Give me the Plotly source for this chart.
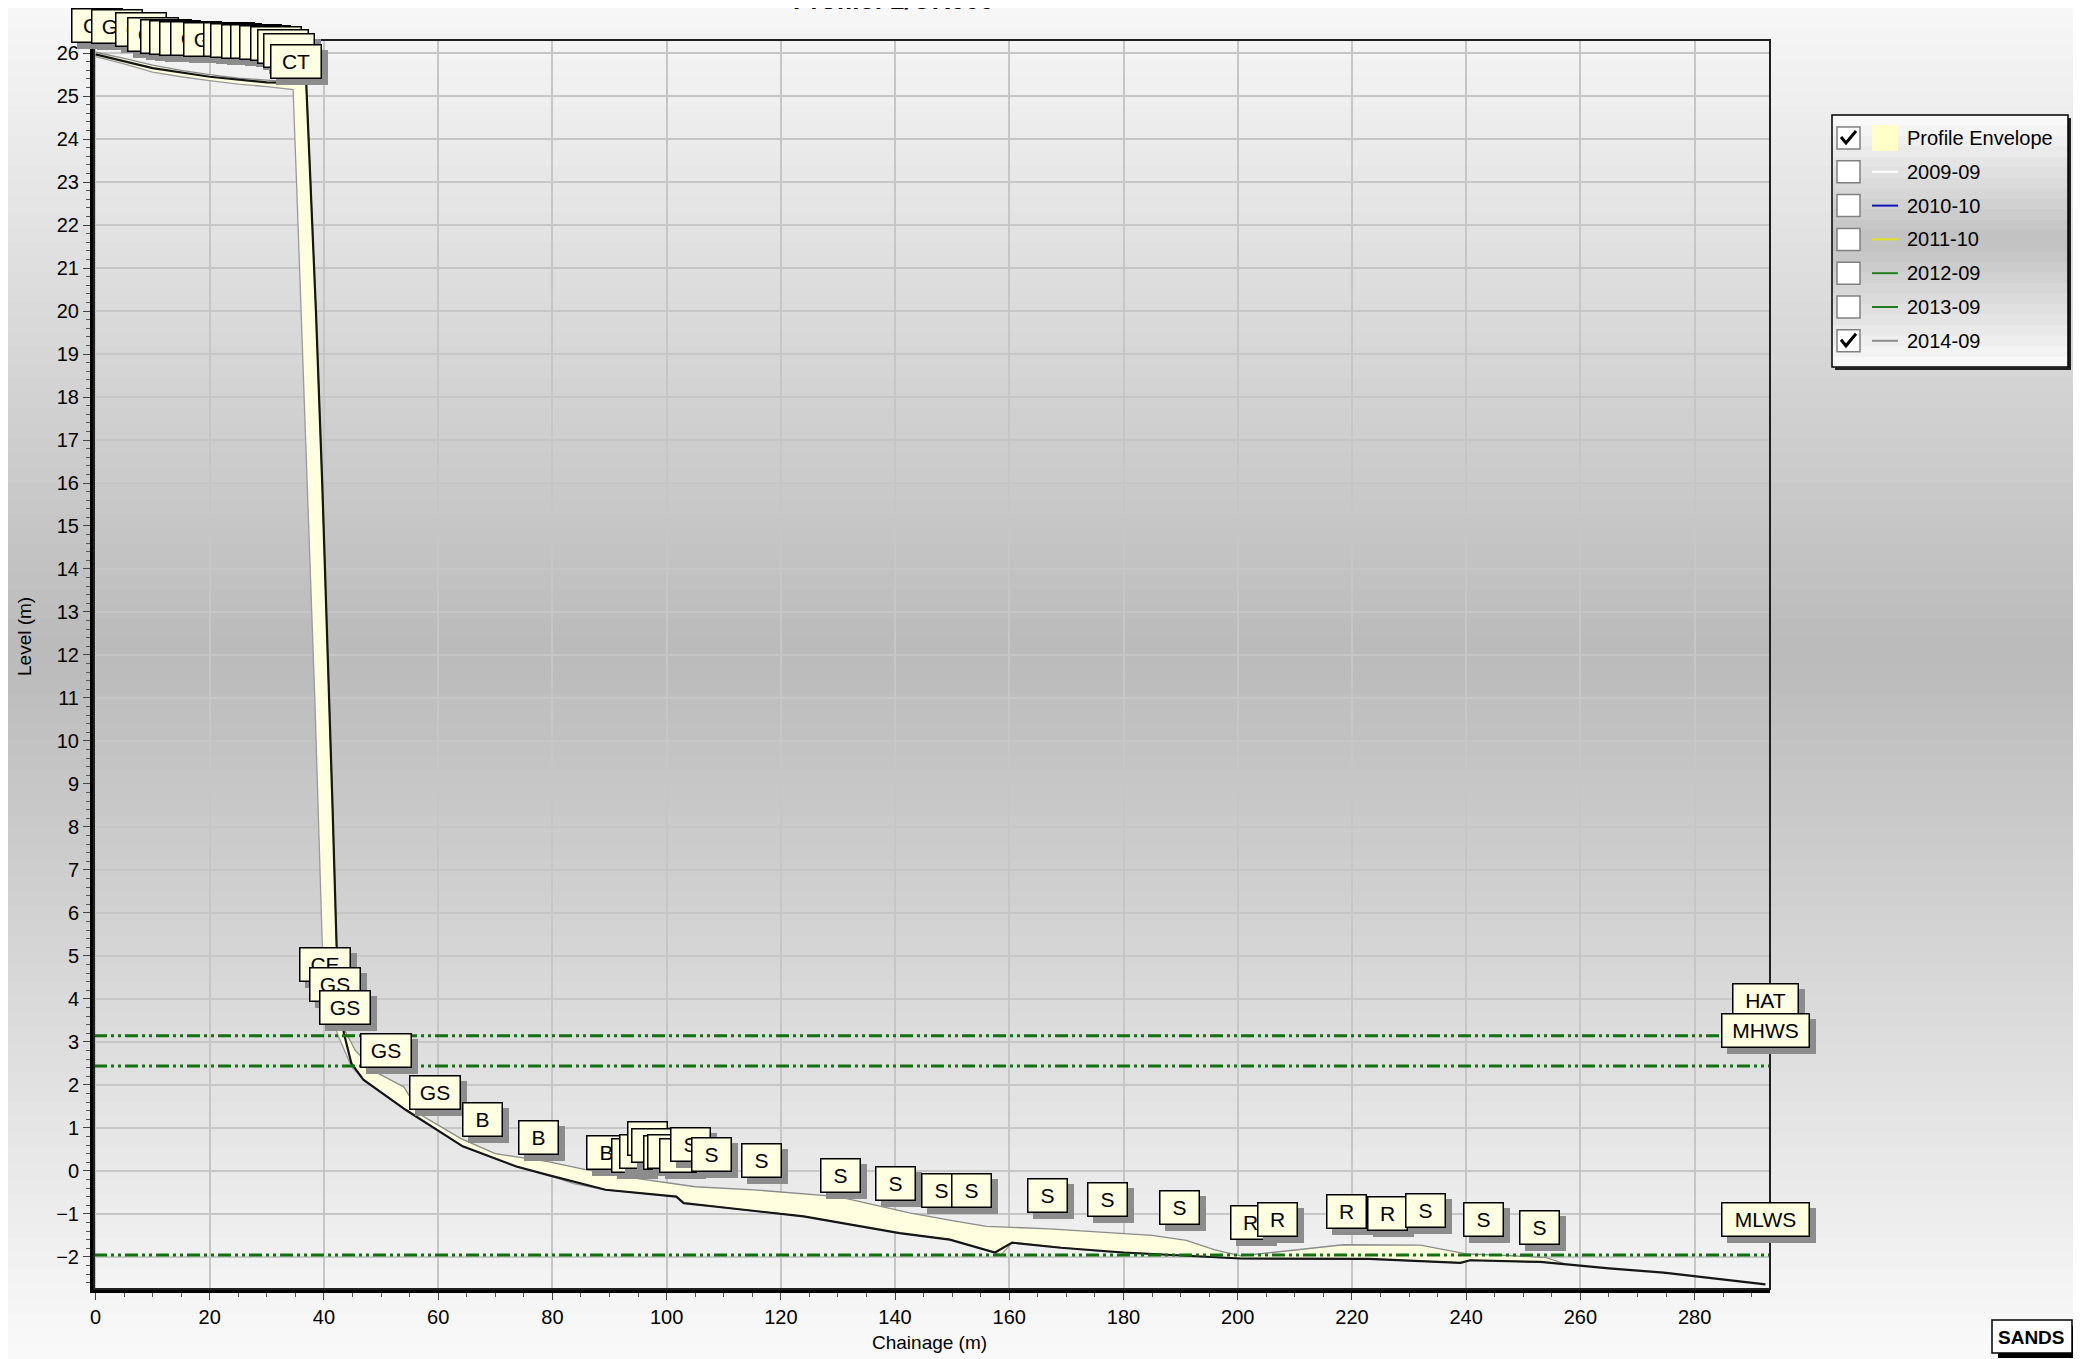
import plotly.graph_objects as go

# window is 2081x1359; the page body has an 8px margin, so the figure is
# offset by 8px and sized to fill the rest of the window.
WIN_W, WIN_H = 2081, 1359
OFF = 8
W, H = WIN_W - OFF, WIN_H - OFF
PLOT_L, PLOT_R, PLOT_T, PLOT_B = 94, 1770, 40, 1289  # plot area in window pixels
ML = PLOT_L - OFF
MT = PLOT_T - OFF
MR = W - (PLOT_R - OFF)
MB = H - (PLOT_B - OFF)
PW = PLOT_R - PLOT_L
PH = PLOT_B - PLOT_T
FONT = "Arial, Liberation Sans, sans-serif"


def px_x(px):
    return (px - PLOT_L) / PW


def px_y(py):
    return (PLOT_B - py) / PH


# ---------------- data ----------------
upper_chainage = [0, 5, 10, 15, 20, 25, 30, 34, 36.9, 37.5, 38.6, 39.7, 40.7, 41.5, 42.2, 42.8, 43.5,
                  45.5, 49, 54, 57, 64, 70, 79, 86, 95, 105, 116, 130, 142.5, 150, 156, 167, 180,
                  185, 191, 196, 200.5, 207, 218.5, 232, 240, 247, 254, 257]
upper_level = [26.02, 25.88, 25.72, 25.6, 25.5, 25.42, 25.37, 25.33, 25.3, 23.5, 20.0, 16.0, 12.0, 8.5,
               5.3, 4.2, 3.3, 2.8, 2.3, 1.95, 1.3, 0.75, 0.4, 0.22, 0.02, -0.18, -0.37, -0.45, -0.6,
               -0.98, -1.16, -1.29, -1.35, -1.45, -1.5, -1.62, -1.84, -1.98, -1.88, -1.72, -1.73,
               -1.93, -1.97, -2.02, -2.15]
lower_chainage = [0, 5, 10, 15, 20, 25, 30, 34.6, 35.2, 36.3, 37.4, 38.4, 39.2, 39.7, 40.8, 42.4, 44.8,
                  46.9, 54.3, 64.3, 73.7, 79.3, 83.7, 89.3, 101.7, 103, 108.4, 124, 140.8, 149.6,
                  157.5, 158.6, 160.5, 169, 176.5, 180, 200.5, 223, 239, 240.7, 253, 257]
lower_level = [25.92, 25.75, 25.56, 25.45, 25.36, 25.28, 25.22, 25.15, 23.0, 19.0, 15.0, 11.0, 7.5, 5.3,
               4.0, 3.17, 2.43, 2.12, 1.42, 0.57, 0.1, -0.1, -0.3, -0.44, -0.6, -0.75, -0.83, -1.06,
               -1.45, -1.6, -1.9, -1.95, -1.67, -1.79, -1.88, -1.9, -2.04, -2.05, -2.14, -2.08,
               -2.12, -2.17]
p2014_chainage = [0, 10, 20, 30, 36.9, 37.5, 38.6, 39.7, 40.7, 41.5, 42.2, 42.6, 43.5, 44.8, 46.9,
                  54.3, 64.3, 73.7, 79.3, 89.3, 101.7, 103, 108.4, 124, 140.8, 149.6, 157.5, 160.5,
                  169, 180, 200.5, 223, 239, 240.7, 253, 257, 265, 274.6, 283, 292.4]
p2014_level = [25.97, 25.65, 25.45, 25.32, 25.3, 23.5, 20.0, 16.0, 12.0, 8.5, 5.3, 4.0, 3.2, 2.5, 2.12,
               1.42, 0.57, 0.1, -0.1, -0.44, -0.6, -0.75, -0.83, -1.06, -1.45, -1.6, -1.9, -1.67,
               -1.79, -1.9, -2.04, -2.05, -2.14, -2.08, -2.12, -2.17, -2.27, -2.37, -2.5, -2.64]

tide_names = ["HAT", "MHWS", "MLWS"]
tide_levels = [3.14, 2.44, -1.96]

feature_text = ["CT", "GS", "GS", "GS", "GS", "GS", "GS", "GS", "GS", "CT", "CT", "CT", "CT", "CT",
                "CT", "CT", "CT", "CT",
                "CE", "GS", "GS", "GS", "GS", "B", "B",
                "B", "S", "S", "S", "S", "S", "S", "S", "S", "S",
                "S", "S", "S", "S", "S", "S", "S", "S", "R", "R", "R", "R", "S", "S", "S"]
feature_chainage = [0.26, 3.76, 7.97, 10.07, 12.34, 13.92, 15.67, 17.6, 19.87, 23.38, 24.6, 26.5, 28.1,
                    29.7, 31.6, 32.8, 33.9, 35.1,
                    40.19, 41.9, 43.7, 50.8, 59.4, 67.7, 77.5,
                    89.4, 93.8, 95.3, 96.7, 97.4, 99.4, 100.1, 102.2, 104.1, 107.8,
                    116.7, 130.4, 140.0, 148.2, 153.3, 166.7, 177.2, 189.8, 202.2, 206.9, 219.1,
                    226.2, 232.8, 243.1, 252.9]
feature_level = [26.24, 26.21, 26.14, 26.02, 25.98, 25.95, 25.93, 25.93, 25.91, 25.91, 25.88, 25.86,
                 25.86, 25.84, 25.81, 25.74, 25.65, 25.40,
                 4.40, 3.93, 3.40, 2.40, 1.42, 0.79, 0.37,
                 0.02, -0.05, 0.05, 0.35, 0.19, 0.02, 0.05, -0.05, 0.21, -0.02,
                 -0.16, -0.51, -0.70, -0.86, -0.86, -0.98, -1.07, -1.26, -1.60, -1.55, -1.35,
                 -1.39, -1.33, -1.53, -1.72]

legend_names = ["Profile Envelope", "2009-09", "2010-10", "2011-10", "2012-09", "2013-09", "2014-09"]
legend_colors = ["#FFFFC8", "#FFFFFF", "#1010C0", "#E0E020", "#208020", "#208020", "#8C8C8C"]
legend_checked = [True, False, False, False, False, False, True]

x_ticks = list(range(0, 281, 20))
y_ticks = list(range(-2, 27))

# ---------------- figure ----------------
fig = go.Figure()

fig.add_trace(go.Scatter(x=upper_chainage, y=upper_level, mode="lines",
                         line=dict(color="#8a8a8a", width=1.3), hoverinfo="skip", showlegend=False))
fig.add_trace(go.Scatter(x=lower_chainage, y=lower_level, mode="lines", fill="tonexty",
                         fillcolor="#FFFFE0", line=dict(color="#9a9a9a", width=1.3),
                         hoverinfo="skip", showlegend=False))
fig.add_trace(go.Scatter(x=p2014_chainage, y=p2014_level, mode="lines",
                         line=dict(color="#151515", width=2.2), name="2014-09", showlegend=False))

shapes = []
annotations = []


def grad(py, stops):
    for (a, ca), (b, cb) in zip(stops[:-1], stops[1:]):
        if a <= py <= b:
            t = (py - a) / (b - a)
            return int(round(ca + (cb - ca) * t))
    return stops[-1][1]


# page / plot gradient background
page_stops = [(0, 248), (650, 186), (WIN_H, 250)]
N = 90
for i in range(N):
    y0 = WIN_H * i / N
    y1 = WIN_H * (i + 1) / N + 1
    c = grad((y0 + y1) / 2, page_stops)
    shapes.append(dict(type="rect", xref="paper", yref="paper", x0=px_x(0), x1=px_x(WIN_W),
                       y0=px_y(y1), y1=px_y(y0), fillcolor=f"rgb({c},{c},{c})",
                       line=dict(width=0), layer="below"))

# tide lines
for lvl in tide_levels:
    shapes.append(dict(type="line", xref="paper", yref="y", x0=0, x1=1, y0=lvl, y1=lvl,
                       line=dict(color="#127212", width=3, dash="13px,4px,3px,4px,3px,4px"),
                       layer="above"))

# plot frame (top/right thinner)
shapes.append(dict(type="rect", xref="paper", yref="paper", x0=0, x1=1, y0=0, y1=1,
                   line=dict(color="#202020", width=2), layer="above"))


def label_box(x, y, text, xref="x", yref="y", yshift=0, width=None, size=21):
    if width is None:
        width = 36 if len(text) == 1 else 47
    common = dict(x=x, y=y, xref=xref, yref=yref, showarrow=False, xanchor="center",
                  yanchor="bottom", width=width, height=30, borderpad=1, borderwidth=1.5)
    annotations.append(dict(common, text=text, bgcolor="#8c8c8c", bordercolor="#8c8c8c",
                            font=dict(family=FONT, size=size, color="#8c8c8c"),
                            xshift=6, yshift=yshift - 6))
    annotations.append(dict(common, text=text, bgcolor="#FFFFE1", bordercolor="#000000",
                            font=dict(family=FONT, size=size, color="#000000"),
                            yshift=yshift))


for t, ch, lv in zip(feature_text, feature_chainage, feature_level):
    label_box(ch, lv, t)

for name, lvl in zip(tide_names, tide_levels):
    label_box(px_x(1765), lvl, name, xref="paper", yshift=18, width=62 if len(name) == 3 else 84)

# title (cut off at the top of the page)
annotations.append(dict(text="<b>Profile: 1/OR000</b>", x=px_x(893), y=px_y(17), xref="paper",
                        yref="paper", xanchor="center", yanchor="bottom", showarrow=False,
                        font=dict(family=FONT, size=26, color="#000000")))

# axis titles
annotations.append(dict(text="Level (m)", x=px_x(24), y=px_y(637), xref="paper", yref="paper",
                        xanchor="center", yanchor="middle", textangle=-90, showarrow=False,
                        font=dict(family=FONT, size=19, color="#000")))
annotations.append(dict(text="Chainage (m)", x=px_x(929), y=px_y(1342), xref="paper", yref="paper",
                        xanchor="center", yanchor="middle", showarrow=False,
                        font=dict(family=FONT, size=19, color="#000")))

# custom legend
LX0, LX1, LY0, LY1 = 1832, 2068, 115, 367
shapes.append(dict(type="rect", xref="paper", yref="paper", x0=px_x(LX0 + 3), x1=px_x(LX1 + 3),
                   y0=px_y(LY1 + 3), y1=px_y(LY0 + 3), fillcolor="#202020", line=dict(width=0)))
leg_stops = [(LY0, 252), (241, 192), (LY1, 250)]
NL = 24
for i in range(NL):
    y0 = LY0 + (LY1 - LY0) * i / NL
    y1 = LY0 + (LY1 - LY0) * (i + 1) / NL + 0.5
    c = grad((y0 + y1) / 2, leg_stops)
    shapes.append(dict(type="rect", xref="paper", yref="paper", x0=px_x(LX0), x1=px_x(LX1),
                       y0=px_y(y1), y1=px_y(y0), fillcolor=f"rgb({c},{c},{c})", line=dict(width=0)))
shapes.append(dict(type="rect", xref="paper", yref="paper", x0=px_x(LX0), x1=px_x(LX1),
                   y0=px_y(LY1), y1=px_y(LY0), line=dict(color="#000", width=1.5)))
row0, drow = 138, 33.8
for i, (nm, col, chk) in enumerate(zip(legend_names, legend_colors, legend_checked)):
    cy = row0 + i * drow
    shapes.append(dict(type="rect", xref="paper", yref="paper", x0=px_x(1837), x1=px_x(1860),
                       y0=px_y(cy + 11), y1=px_y(cy - 11), fillcolor="#FFFFFF",
                       line=dict(color="#808080", width=1.5)))
    if chk:
        path = (f"M {px_x(1841)},{px_y(cy - 1)} L {px_x(1846)},{px_y(cy + 5)} "
                f"L {px_x(1856)},{px_y(cy - 7)}")
        shapes.append(dict(type="path", xref="paper", yref="paper", path=path,
                           line=dict(color="#000", width=3)))
    if i == 0:
        shapes.append(dict(type="rect", xref="paper", yref="paper", x0=px_x(1872), x1=px_x(1898),
                           y0=px_y(cy + 13), y1=px_y(cy - 13), fillcolor=col, line=dict(width=0)))
    else:
        shapes.append(dict(type="line", xref="paper", yref="paper", x0=px_x(1872), x1=px_x(1898),
                           y0=px_y(cy), y1=px_y(cy), line=dict(color=col, width=2)))
    annotations.append(dict(text=nm, x=px_x(1905), y=px_y(cy), xref="paper", yref="paper",
                            xanchor="left", yanchor="middle", showarrow=False,
                            font=dict(family=FONT, size=20, color="#000")))

# SANDS logo
shapes.append(dict(type="rect", xref="paper", yref="paper", x0=px_x(1998), x1=px_x(2078),
                   y0=px_y(1358), y1=px_y(1326), fillcolor="#000", line=dict(width=0)))
shapes.append(dict(type="rect", xref="paper", yref="paper", x0=px_x(1992), x1=px_x(2072),
                   y0=px_y(1353), y1=px_y(1320), fillcolor="#fff", line=dict(color="#000", width=1.5)))
annotations.append(dict(text="<b>SANDS</b>", x=px_x(2031), y=px_y(1337), xref="paper", yref="paper",
                        xanchor="center", yanchor="middle", showarrow=False,
                        font=dict(family=FONT, size=19, color="#000")))

fig.update_layout(
    width=W, height=H,
    margin=dict(l=ML, r=MR, t=MT, b=MB, autoexpand=False),
    paper_bgcolor="#f4f4f4",
    plot_bgcolor="rgba(0,0,0,0)",
    showlegend=False,
    shapes=shapes,
    annotations=annotations,
    font=dict(family=FONT, size=20, color="#000"),
)
fig.update_xaxes(range=[-0.26, 293.2], tickvals=x_ticks, showline=True, linecolor="#000", linewidth=4,
                 ticks="outside", ticklen=7, tickcolor="#444", tickwidth=1.2,
                 minor=dict(dtick=5, ticks="outside", ticklen=4, tickcolor="#555", showgrid=False),
                 showgrid=True, gridcolor="#c6c6c6", gridwidth=1.5, zeroline=False,
                 tickfont=dict(family=FONT, size=20, color="#000"))
fig.update_yaxes(range=[-2.749, 26.305], tickvals=y_ticks, showline=True, linecolor="#000", linewidth=4,
                 ticks="outside", ticklen=7, tickcolor="#444", tickwidth=1.2,
                 minor=dict(dtick=0.2, ticks="outside", ticklen=4, tickcolor="#555", showgrid=False),
                 showgrid=True, gridcolor="#c6c6c6", gridwidth=1.5, zeroline=False,
                 tickfont=dict(family=FONT, size=20, color="#000"))

fig.write_html("out.html")
